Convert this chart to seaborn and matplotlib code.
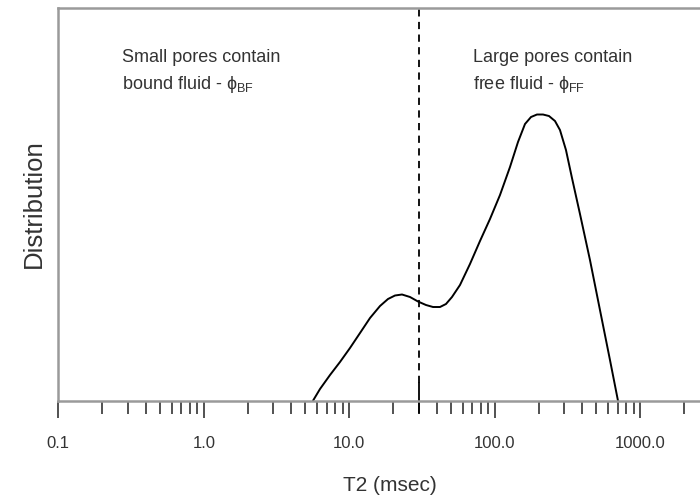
import numpy as np
import pandas as pd
import matplotlib
matplotlib.use("Agg")
import matplotlib.pyplot as plt
import matplotlib.ticker as mticker
import seaborn as sns

# T2 distribution
t2_ms = [5.63, 6.29, 7.37, 8.63, 10.11, 11.85, 13.88, 16.26, 18.45, 20.61,
         23.03, 26.14, 29.67, 33.66, 37.61, 42.02, 46.19, 50.80, 57.66, 67.53,
         79.13, 92.69, 108.6, 127.2, 144.4, 161.3, 177.4, 195.0, 214.5, 235.8,
         259.3, 280.6, 308.5, 339.3, 385.1, 451.1, 528.4, 619.1, 702.6]
distribution = [0.0, 11.7, 25.7, 38.7, 52.7, 67.7, 82.7, 94.7, 101.7, 105.2,
                106.2, 103.7, 99.2, 95.7, 93.7, 93.7, 96.7, 103.7, 115.7, 136.7,
                159.7, 181.7, 205.7, 233.7, 258.7, 276.7, 283.7, 286.2, 286.2, 284.7,
                279.7, 270.7, 250.7, 222.7, 186.7, 140.7, 90.7, 40.7, 0.0]
cutoff_ms = 30.0
tick_values = [0.1, 1.0, 10.0, 100.0, 1000.0]
tick_labels = ["0.1", "1.0", "10.0", "100.0", "1000.0"]
x_range = [0.1, 3640.0]
y_range = [0.0, 393.2]

df = pd.DataFrame({"T2": t2_ms, "Distribution": distribution})

sns.set_theme(style="white")
plt.rcParams["font.family"] = ["Liberation Sans", "DejaVu Sans"]
plt.rcParams["mathtext.fontset"] = "custom"
plt.rcParams["mathtext.rm"] = "Liberation Sans"
plt.rcParams["mathtext.it"] = "Liberation Sans"

fig = plt.figure(figsize=(7.0, 5.01), dpi=100)
ax = fig.add_axes([0.0833, 0.2002, 0.948, 0.7848])

sns.lineplot(data=df, x="T2", y="Distribution", ax=ax, color="black",
             linewidth=1.4, sort=False)

ax.set_xscale("log")
ax.set_xlim(*x_range)
ax.set_ylim(*y_range)

# cutoff line
ax.axvline(cutoff_ms, ymin=0.045, ymax=1.0, color="black", linestyle=(0, (4, 3)),
           linewidth=1.3)
trans = ax.get_xaxis_transform()
ax.plot([cutoff_ms, cutoff_ms], [-0.031, 0.045], transform=trans, color="black",
        linewidth=1.3, clip_on=False)

# spines
for side in ["left", "top", "bottom", "right"]:
    ax.spines[side].set_color("#9a9a9a")
    ax.spines[side].set_linewidth(1.8)

ax.set_yticks([])
ax.xaxis.set_major_locator(mticker.FixedLocator(tick_values))
ax.xaxis.set_major_formatter(mticker.FixedFormatter(tick_labels))
ax.xaxis.set_minor_locator(mticker.LogLocator(base=10, subs=np.arange(2, 10)))
ax.xaxis.set_minor_formatter(mticker.NullFormatter())
ax.tick_params(axis="x", which="major", direction="out", length=12.5, width=1.1,
               color="#222222", labelsize=12, labelcolor="#333333", pad=13, bottom=True)
ax.tick_params(axis="x", which="minor", direction="out", length=9.0, width=1.1,
               color="#222222", bottom=True)

ax.set_xlabel("T2 (msec)", fontsize=15, color="#333333", labelpad=18)
ax.set_ylabel("Distribution", fontsize=18.5, color="#333333", labelpad=9)

txt_kw = dict(transform=ax.transAxes, fontsize=13, color="#333333", va="center", ha="left")
ax.text(0.096, 0.874, "Small pores contain", **txt_kw)
ax.text(0.096, 0.805, r"bound fluid - $\phi_{\mathrm{BF}}$", **txt_kw)
ax.text(0.625, 0.874, "Large pores contain", **txt_kw)
ax.text(0.625, 0.805, r"free fluid - $\phi_{\mathrm{FF}}$", **txt_kw)

fig.savefig("out.png", dpi=100)
